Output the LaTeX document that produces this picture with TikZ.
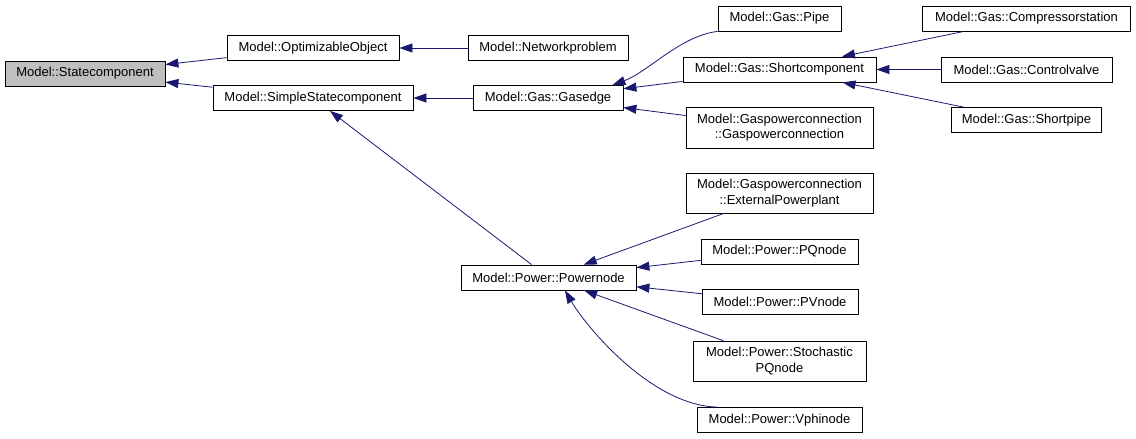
\documentclass[tikz,border=0pt]{standalone}
\usepackage{fontspec}
\setmainfont{Liberation Sans}
\usetikzlibrary{arrows.meta}
\definecolor{edgeblue}{HTML}{191970}
\definecolor{basegray}{HTML}{BFBFBF}

\begin{document}
\begin{tikzpicture}[x=1pt, y=-1pt,
    >={Triangle[length=13pt, width=9pt]},
    cls/.style={draw, line width=0.8pt, minimum height=25pt, inner sep=0pt,
        font=\fontsize{13}{15.5}\selectfont, align=center},
    inh/.style={<-, draw=edgeblue, line width=0.8pt}]
    % Rahmen der Grafik
    \useasboundingbox (0,0) rectangle (1136,439);

    % Basisklasse und erste Ebene
    \node[cls, fill=basegray, minimum width=160pt] (sc) at (85,73.5) {Model::Statecomponent};
    \node[cls, minimum width=172pt] (oo) at (313,48) {Model::OptimizableObject};
    \node[cls, minimum width=200pt] (ssc) at (313,98) {Model::SimpleStatecomponent};

    % zweite Ebene
    \node[cls, minimum width=160pt] (np) at (548,48) {Model::Networkproblem};
    \node[cls, minimum width=150pt] (ge) at (548,98) {Model::Gas::Gasedge};
    \node[cls, minimum width=175pt] (pn) at (548.5,277.5) {Model::Power::Powernode};

    % Gas-Zweig
    \node[cls, minimum width=123pt] (pipe) at (779.5,18.5) {Model::Gas::Pipe};
    \node[cls, minimum width=193pt] (shc) at (779.5,69.5) {Model::Gas::Shortcomponent};
    \node[cls, minimum width=187pt, minimum height=41pt] (gpc) at (779.5,127.5) {Model::Gaspowerconnection\\::Gaspowerconnection};
    \node[cls, minimum width=208pt] (cs) at (1026.5,18.5) {Model::Gas::Compressorstation};
    \node[cls, minimum width=171pt] (cv) at (1026.5,69.5) {Model::Gas::Controlvalve};
    \node[cls, minimum width=150pt] (sp) at (1026.5,120) {Model::Gas::Shortpipe};

    % Power-Zweig
    \node[cls, minimum width=187pt, minimum height=40pt] (epp) at (779.5,193) {Model::Gaspowerconnection\\::ExternalPowerplant};
    \node[cls, minimum width=157pt] (pq) at (779.5,251.5) {Model::Power::PQnode};
    \node[cls, minimum width=156pt] (pv) at (780,302) {Model::Power::PVnode};
    \node[cls, minimum width=173pt, minimum height=40pt] (st) at (779.5,361) {Model::Power::Stochastic\\PQnode};
    \node[cls, minimum width=165pt] (vp) at (779.5,420) {Model::Power::Vphinode};

    % Vererbungspfeile (Pfeil an der Basisklasse)
    \foreach \base/\derived in {sc/oo, sc/ssc, oo/np, ssc/ge, ssc/pn, ge/shc, ge/gpc,
        shc/cs, shc/cv, shc/sp, pn/epp, pn/pq, pn/pv, pn/st} {
        \draw[inh] (\base) -- (\derived);
    }

    % gebogene Kanten
    \draw[inh] ([xshift=-11pt]ge.north east) .. controls (648,72) and (680,36) .. (pipe.south west);
    \draw[inh] ([xshift=16.5pt]pn.south) .. controls (585,325) and (650,405) .. ([xshift=-62.5pt]vp.north);
\end{tikzpicture}
\end{document}
